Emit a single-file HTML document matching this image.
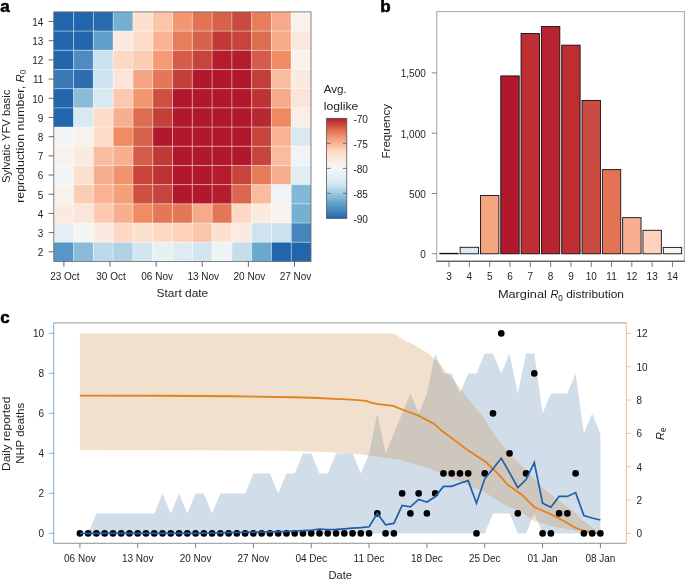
<!DOCTYPE html>
<html><head><meta charset="utf-8"><title>Figure</title>
<style>
html,body{margin:0;padding:0;background:#fff;}
body{width:685px;height:580px;overflow:hidden;}
svg{display:block;will-change:transform;}
text{font-family:"Liberation Sans", sans-serif;fill:#1e1e1e;}
.t{font-size:10px;}
.l{font-size:11px;}
.pl{font-size:17px;font-weight:bold;fill:#000;stroke:#000;stroke-width:0.55px;}
</style></head>
<body>
<svg width="685" height="580" viewBox="0 0 685 580">
<rect x="53.80" y="11.90" width="19.80" height="19.21" fill="#2166ac"/>
<rect x="73.58" y="11.90" width="19.80" height="19.21" fill="#2166ac"/>
<rect x="93.37" y="11.90" width="19.80" height="19.21" fill="#276aae"/>
<rect x="113.15" y="11.90" width="19.80" height="19.21" fill="#75b0d3"/>
<rect x="132.94" y="11.90" width="19.80" height="19.21" fill="#fce1d1"/>
<rect x="152.72" y="11.90" width="19.80" height="19.21" fill="#fbc5aa"/>
<rect x="172.51" y="11.90" width="19.80" height="19.21" fill="#f39771"/>
<rect x="192.29" y="11.90" width="19.80" height="19.21" fill="#e17254"/>
<rect x="212.08" y="11.90" width="19.80" height="19.21" fill="#d7624b"/>
<rect x="231.86" y="11.90" width="19.80" height="19.21" fill="#c94a3e"/>
<rect x="251.65" y="11.90" width="19.80" height="19.21" fill="#e77d5a"/>
<rect x="271.43" y="11.90" width="19.80" height="19.21" fill="#f7aa89"/>
<rect x="291.22" y="11.90" width="19.80" height="19.21" fill="#f9f1ec"/>
<rect x="53.80" y="31.09" width="19.80" height="19.21" fill="#2166ac"/>
<rect x="73.58" y="31.09" width="19.80" height="19.21" fill="#2166ac"/>
<rect x="93.37" y="31.09" width="19.80" height="19.21" fill="#5e9ec9"/>
<rect x="113.15" y="31.09" width="19.80" height="19.21" fill="#fbeae0"/>
<rect x="132.94" y="31.09" width="19.80" height="19.21" fill="#fddcc9"/>
<rect x="152.72" y="31.09" width="19.80" height="19.21" fill="#f9b394"/>
<rect x="172.51" y="31.09" width="19.80" height="19.21" fill="#e77d5a"/>
<rect x="192.29" y="31.09" width="19.80" height="19.21" fill="#d7624b"/>
<rect x="212.08" y="31.09" width="19.80" height="19.21" fill="#c03936"/>
<rect x="231.86" y="31.09" width="19.80" height="19.21" fill="#c6443b"/>
<rect x="251.65" y="31.09" width="19.80" height="19.21" fill="#dd6d51"/>
<rect x="271.43" y="31.09" width="19.80" height="19.21" fill="#f7aa89"/>
<rect x="291.22" y="31.09" width="19.80" height="19.21" fill="#fbe8dd"/>
<rect x="53.80" y="50.28" width="19.80" height="19.21" fill="#2166ac"/>
<rect x="73.58" y="50.28" width="19.80" height="19.21" fill="#4d8bc0"/>
<rect x="93.37" y="50.28" width="19.80" height="19.21" fill="#cae1ee"/>
<rect x="113.15" y="50.28" width="19.80" height="19.21" fill="#fdd9c4"/>
<rect x="132.94" y="50.28" width="19.80" height="19.21" fill="#fccdb5"/>
<rect x="152.72" y="50.28" width="19.80" height="19.21" fill="#f49b76"/>
<rect x="172.51" y="50.28" width="19.80" height="19.21" fill="#d45c48"/>
<rect x="192.29" y="50.28" width="19.80" height="19.21" fill="#c6443b"/>
<rect x="212.08" y="50.28" width="19.80" height="19.21" fill="#b41d2c"/>
<rect x="231.86" y="50.28" width="19.80" height="19.21" fill="#b41d2c"/>
<rect x="251.65" y="50.28" width="19.80" height="19.21" fill="#d45c48"/>
<rect x="271.43" y="50.28" width="19.80" height="19.21" fill="#ef8c64"/>
<rect x="291.22" y="50.28" width="19.80" height="19.21" fill="#f9f1ec"/>
<rect x="53.80" y="69.48" width="19.80" height="19.21" fill="#3a79b6"/>
<rect x="73.58" y="69.48" width="19.80" height="19.21" fill="#2d6eb0"/>
<rect x="93.37" y="69.48" width="19.80" height="19.21" fill="#cee3ef"/>
<rect x="113.15" y="69.48" width="19.80" height="19.21" fill="#fbe5d9"/>
<rect x="132.94" y="69.48" width="19.80" height="19.21" fill="#f6a684"/>
<rect x="152.72" y="69.48" width="19.80" height="19.21" fill="#e47757"/>
<rect x="172.51" y="69.48" width="19.80" height="19.21" fill="#c33f39"/>
<rect x="192.29" y="69.48" width="19.80" height="19.21" fill="#b2182b"/>
<rect x="212.08" y="69.48" width="19.80" height="19.21" fill="#b2182b"/>
<rect x="231.86" y="69.48" width="19.80" height="19.21" fill="#b2182b"/>
<rect x="251.65" y="69.48" width="19.80" height="19.21" fill="#c33f39"/>
<rect x="271.43" y="69.48" width="19.80" height="19.21" fill="#fabc9f"/>
<rect x="291.22" y="69.48" width="19.80" height="19.21" fill="#fbeae0"/>
<rect x="53.80" y="88.67" width="19.80" height="19.21" fill="#2166ac"/>
<rect x="73.58" y="88.67" width="19.80" height="19.21" fill="#8abbd9"/>
<rect x="93.37" y="88.67" width="19.80" height="19.21" fill="#d9e9f1"/>
<rect x="113.15" y="88.67" width="19.80" height="19.21" fill="#fcc9b0"/>
<rect x="132.94" y="88.67" width="19.80" height="19.21" fill="#f39771"/>
<rect x="152.72" y="88.67" width="19.80" height="19.21" fill="#cd5041"/>
<rect x="172.51" y="88.67" width="19.80" height="19.21" fill="#b2182b"/>
<rect x="192.29" y="88.67" width="19.80" height="19.21" fill="#b2182b"/>
<rect x="212.08" y="88.67" width="19.80" height="19.21" fill="#b2182b"/>
<rect x="231.86" y="88.67" width="19.80" height="19.21" fill="#b2182b"/>
<rect x="251.65" y="88.67" width="19.80" height="19.21" fill="#bd3334"/>
<rect x="271.43" y="88.67" width="19.80" height="19.21" fill="#f7aa89"/>
<rect x="291.22" y="88.67" width="19.80" height="19.21" fill="#fbe5d9"/>
<rect x="53.80" y="107.86" width="19.80" height="19.21" fill="#2166ac"/>
<rect x="73.58" y="107.86" width="19.80" height="19.21" fill="#d9e9f1"/>
<rect x="93.37" y="107.86" width="19.80" height="19.21" fill="#fddcc9"/>
<rect x="113.15" y="107.86" width="19.80" height="19.21" fill="#f8af8f"/>
<rect x="132.94" y="107.86" width="19.80" height="19.21" fill="#dd6d51"/>
<rect x="152.72" y="107.86" width="19.80" height="19.21" fill="#c33f39"/>
<rect x="172.51" y="107.86" width="19.80" height="19.21" fill="#b2182b"/>
<rect x="192.29" y="107.86" width="19.80" height="19.21" fill="#b2182b"/>
<rect x="212.08" y="107.86" width="19.80" height="19.21" fill="#b2182b"/>
<rect x="231.86" y="107.86" width="19.80" height="19.21" fill="#b2182b"/>
<rect x="251.65" y="107.86" width="19.80" height="19.21" fill="#b82830"/>
<rect x="271.43" y="107.86" width="19.80" height="19.21" fill="#ee8961"/>
<rect x="291.22" y="107.86" width="19.80" height="19.21" fill="#faeee8"/>
<rect x="53.80" y="127.05" width="19.80" height="19.21" fill="#f3f5f6"/>
<rect x="73.58" y="127.05" width="19.80" height="19.21" fill="#f9f1ec"/>
<rect x="93.37" y="127.05" width="19.80" height="19.21" fill="#fddcc9"/>
<rect x="113.15" y="127.05" width="19.80" height="19.21" fill="#ef8c64"/>
<rect x="132.94" y="127.05" width="19.80" height="19.21" fill="#d7624b"/>
<rect x="152.72" y="127.05" width="19.80" height="19.21" fill="#b2182b"/>
<rect x="172.51" y="127.05" width="19.80" height="19.21" fill="#b2182b"/>
<rect x="192.29" y="127.05" width="19.80" height="19.21" fill="#b2182b"/>
<rect x="212.08" y="127.05" width="19.80" height="19.21" fill="#b2182b"/>
<rect x="231.86" y="127.05" width="19.80" height="19.21" fill="#b2182b"/>
<rect x="251.65" y="127.05" width="19.80" height="19.21" fill="#c6443b"/>
<rect x="271.43" y="127.05" width="19.80" height="19.21" fill="#f9b394"/>
<rect x="291.22" y="127.05" width="19.80" height="19.21" fill="#d9e9f1"/>
<rect x="53.80" y="146.25" width="19.80" height="19.21" fill="#f8f3ef"/>
<rect x="73.58" y="146.25" width="19.80" height="19.21" fill="#fbeae0"/>
<rect x="93.37" y="146.25" width="19.80" height="19.21" fill="#fabc9f"/>
<rect x="113.15" y="146.25" width="19.80" height="19.21" fill="#f8af8f"/>
<rect x="132.94" y="146.25" width="19.80" height="19.21" fill="#d45c48"/>
<rect x="152.72" y="146.25" width="19.80" height="19.21" fill="#c03936"/>
<rect x="172.51" y="146.25" width="19.80" height="19.21" fill="#b2182b"/>
<rect x="192.29" y="146.25" width="19.80" height="19.21" fill="#b2182b"/>
<rect x="212.08" y="146.25" width="19.80" height="19.21" fill="#b2182b"/>
<rect x="231.86" y="146.25" width="19.80" height="19.21" fill="#b2182b"/>
<rect x="251.65" y="146.25" width="19.80" height="19.21" fill="#c6443b"/>
<rect x="271.43" y="146.25" width="19.80" height="19.21" fill="#fabc9f"/>
<rect x="291.22" y="146.25" width="19.80" height="19.21" fill="#f1f4f6"/>
<rect x="53.80" y="165.44" width="19.80" height="19.21" fill="#f3f5f6"/>
<rect x="73.58" y="165.44" width="19.80" height="19.21" fill="#fce1d1"/>
<rect x="93.37" y="165.44" width="19.80" height="19.21" fill="#f8af8f"/>
<rect x="113.15" y="165.44" width="19.80" height="19.21" fill="#f2936d"/>
<rect x="132.94" y="165.44" width="19.80" height="19.21" fill="#c6443b"/>
<rect x="152.72" y="165.44" width="19.80" height="19.21" fill="#bd3334"/>
<rect x="172.51" y="165.44" width="19.80" height="19.21" fill="#b2182b"/>
<rect x="192.29" y="165.44" width="19.80" height="19.21" fill="#b2182b"/>
<rect x="212.08" y="165.44" width="19.80" height="19.21" fill="#b41d2c"/>
<rect x="231.86" y="165.44" width="19.80" height="19.21" fill="#c6443b"/>
<rect x="251.65" y="165.44" width="19.80" height="19.21" fill="#e67a59"/>
<rect x="271.43" y="165.44" width="19.80" height="19.21" fill="#f8af8f"/>
<rect x="291.22" y="165.44" width="19.80" height="19.21" fill="#e2edf3"/>
<rect x="53.80" y="184.63" width="19.80" height="19.21" fill="#f9f1ec"/>
<rect x="73.58" y="184.63" width="19.80" height="19.21" fill="#fccdb5"/>
<rect x="93.37" y="184.63" width="19.80" height="19.21" fill="#f9b394"/>
<rect x="113.15" y="184.63" width="19.80" height="19.21" fill="#f49e7a"/>
<rect x="132.94" y="184.63" width="19.80" height="19.21" fill="#cd5041"/>
<rect x="152.72" y="184.63" width="19.80" height="19.21" fill="#c6443b"/>
<rect x="172.51" y="184.63" width="19.80" height="19.21" fill="#b2182b"/>
<rect x="192.29" y="184.63" width="19.80" height="19.21" fill="#b2182b"/>
<rect x="212.08" y="184.63" width="19.80" height="19.21" fill="#b41d2c"/>
<rect x="231.86" y="184.63" width="19.80" height="19.21" fill="#da674e"/>
<rect x="251.65" y="184.63" width="19.80" height="19.21" fill="#fabc9f"/>
<rect x="271.43" y="184.63" width="19.80" height="19.21" fill="#f1f4f6"/>
<rect x="291.22" y="184.63" width="19.80" height="19.21" fill="#83b7d7"/>
<rect x="53.80" y="203.82" width="19.80" height="19.21" fill="#fbeae0"/>
<rect x="73.58" y="203.82" width="19.80" height="19.21" fill="#fbe5d9"/>
<rect x="93.37" y="203.82" width="19.80" height="19.21" fill="#fcc9b0"/>
<rect x="113.15" y="203.82" width="19.80" height="19.21" fill="#f8af8f"/>
<rect x="132.94" y="203.82" width="19.80" height="19.21" fill="#ef8c64"/>
<rect x="152.72" y="203.82" width="19.80" height="19.21" fill="#e47757"/>
<rect x="172.51" y="203.82" width="19.80" height="19.21" fill="#e47757"/>
<rect x="192.29" y="203.82" width="19.80" height="19.21" fill="#f7aa89"/>
<rect x="212.08" y="203.82" width="19.80" height="19.21" fill="#e47757"/>
<rect x="231.86" y="203.82" width="19.80" height="19.21" fill="#fdd9c4"/>
<rect x="251.65" y="203.82" width="19.80" height="19.21" fill="#fbeae0"/>
<rect x="271.43" y="203.82" width="19.80" height="19.21" fill="#f8f3ef"/>
<rect x="291.22" y="203.82" width="19.80" height="19.21" fill="#75b0d3"/>
<rect x="53.80" y="223.02" width="19.80" height="19.21" fill="#e5eef4"/>
<rect x="73.58" y="223.02" width="19.80" height="19.21" fill="#f4f6f6"/>
<rect x="93.37" y="223.02" width="19.80" height="19.21" fill="#fbeae0"/>
<rect x="113.15" y="223.02" width="19.80" height="19.21" fill="#fdd9c4"/>
<rect x="132.94" y="223.02" width="19.80" height="19.21" fill="#fce1d1"/>
<rect x="152.72" y="223.02" width="19.80" height="19.21" fill="#fdd9c4"/>
<rect x="172.51" y="223.02" width="19.80" height="19.21" fill="#fdd1ba"/>
<rect x="192.29" y="223.02" width="19.80" height="19.21" fill="#fbc5aa"/>
<rect x="212.08" y="223.02" width="19.80" height="19.21" fill="#fce1d1"/>
<rect x="231.86" y="223.02" width="19.80" height="19.21" fill="#fbeae0"/>
<rect x="251.65" y="223.02" width="19.80" height="19.21" fill="#cee3ef"/>
<rect x="271.43" y="223.02" width="19.80" height="19.21" fill="#cae1ee"/>
<rect x="291.22" y="223.02" width="19.80" height="19.21" fill="#4684bc"/>
<rect x="53.80" y="242.21" width="19.80" height="19.21" fill="#5796c6"/>
<rect x="73.58" y="242.21" width="19.80" height="19.21" fill="#8abbd9"/>
<rect x="93.37" y="242.21" width="19.80" height="19.21" fill="#bdd8e9"/>
<rect x="113.15" y="242.21" width="19.80" height="19.21" fill="#afd0e5"/>
<rect x="132.94" y="242.21" width="19.80" height="19.21" fill="#d3e6f0"/>
<rect x="152.72" y="242.21" width="19.80" height="19.21" fill="#e8f0f4"/>
<rect x="172.51" y="242.21" width="19.80" height="19.21" fill="#dfebf3"/>
<rect x="192.29" y="242.21" width="19.80" height="19.21" fill="#d3e6f0"/>
<rect x="212.08" y="242.21" width="19.80" height="19.21" fill="#eef3f5"/>
<rect x="231.86" y="242.21" width="19.80" height="19.21" fill="#c5deec"/>
<rect x="251.65" y="242.21" width="19.80" height="19.21" fill="#67a9cf"/>
<rect x="271.43" y="242.21" width="19.80" height="19.21" fill="#2166ac"/>
<rect x="291.22" y="242.21" width="19.80" height="19.21" fill="#2166ac"/>
<line x1="73.58" y1="11.90" x2="73.58" y2="261.40" stroke="#fff" stroke-opacity="0.55" stroke-width="0.8"/>
<line x1="93.37" y1="11.90" x2="93.37" y2="261.40" stroke="#fff" stroke-opacity="0.55" stroke-width="0.8"/>
<line x1="113.15" y1="11.90" x2="113.15" y2="261.40" stroke="#fff" stroke-opacity="0.55" stroke-width="0.8"/>
<line x1="132.94" y1="11.90" x2="132.94" y2="261.40" stroke="#fff" stroke-opacity="0.55" stroke-width="0.8"/>
<line x1="152.72" y1="11.90" x2="152.72" y2="261.40" stroke="#fff" stroke-opacity="0.55" stroke-width="0.8"/>
<line x1="172.51" y1="11.90" x2="172.51" y2="261.40" stroke="#fff" stroke-opacity="0.55" stroke-width="0.8"/>
<line x1="192.29" y1="11.90" x2="192.29" y2="261.40" stroke="#fff" stroke-opacity="0.55" stroke-width="0.8"/>
<line x1="212.08" y1="11.90" x2="212.08" y2="261.40" stroke="#fff" stroke-opacity="0.55" stroke-width="0.8"/>
<line x1="231.86" y1="11.90" x2="231.86" y2="261.40" stroke="#fff" stroke-opacity="0.55" stroke-width="0.8"/>
<line x1="251.65" y1="11.90" x2="251.65" y2="261.40" stroke="#fff" stroke-opacity="0.55" stroke-width="0.8"/>
<line x1="271.43" y1="11.90" x2="271.43" y2="261.40" stroke="#fff" stroke-opacity="0.55" stroke-width="0.8"/>
<line x1="291.22" y1="11.90" x2="291.22" y2="261.40" stroke="#fff" stroke-opacity="0.55" stroke-width="0.8"/>
<line x1="53.80" y1="31.09" x2="311.00" y2="31.09" stroke="#fff" stroke-opacity="0.55" stroke-width="0.8"/>
<line x1="53.80" y1="50.28" x2="311.00" y2="50.28" stroke="#fff" stroke-opacity="0.55" stroke-width="0.8"/>
<line x1="53.80" y1="69.48" x2="311.00" y2="69.48" stroke="#fff" stroke-opacity="0.55" stroke-width="0.8"/>
<line x1="53.80" y1="88.67" x2="311.00" y2="88.67" stroke="#fff" stroke-opacity="0.55" stroke-width="0.8"/>
<line x1="53.80" y1="107.86" x2="311.00" y2="107.86" stroke="#fff" stroke-opacity="0.55" stroke-width="0.8"/>
<line x1="53.80" y1="127.05" x2="311.00" y2="127.05" stroke="#fff" stroke-opacity="0.55" stroke-width="0.8"/>
<line x1="53.80" y1="146.25" x2="311.00" y2="146.25" stroke="#fff" stroke-opacity="0.55" stroke-width="0.8"/>
<line x1="53.80" y1="165.44" x2="311.00" y2="165.44" stroke="#fff" stroke-opacity="0.55" stroke-width="0.8"/>
<line x1="53.80" y1="184.63" x2="311.00" y2="184.63" stroke="#fff" stroke-opacity="0.55" stroke-width="0.8"/>
<line x1="53.80" y1="203.82" x2="311.00" y2="203.82" stroke="#fff" stroke-opacity="0.55" stroke-width="0.8"/>
<line x1="53.80" y1="223.02" x2="311.00" y2="223.02" stroke="#fff" stroke-opacity="0.55" stroke-width="0.8"/>
<line x1="53.80" y1="242.21" x2="311.00" y2="242.21" stroke="#fff" stroke-opacity="0.55" stroke-width="0.8"/>
<rect x="53.80" y="11.90" width="257.20" height="249.50" fill="none" stroke="#666" stroke-width="0.8"/>
<line x1="48.6" y1="21.50" x2="53.80" y2="21.50" stroke="#444" stroke-width="0.8"/>
<text x="43.4" y="25.80" text-anchor="end" class="t">14</text>
<line x1="48.6" y1="40.69" x2="53.80" y2="40.69" stroke="#444" stroke-width="0.8"/>
<text x="43.4" y="44.99" text-anchor="end" class="t">13</text>
<line x1="48.6" y1="59.88" x2="53.80" y2="59.88" stroke="#444" stroke-width="0.8"/>
<text x="43.4" y="64.18" text-anchor="end" class="t">12</text>
<line x1="48.6" y1="79.07" x2="53.80" y2="79.07" stroke="#444" stroke-width="0.8"/>
<text x="43.4" y="83.37" text-anchor="end" class="t">11</text>
<line x1="48.6" y1="98.27" x2="53.80" y2="98.27" stroke="#444" stroke-width="0.8"/>
<text x="43.4" y="102.57" text-anchor="end" class="t">10</text>
<line x1="48.6" y1="117.46" x2="53.80" y2="117.46" stroke="#444" stroke-width="0.8"/>
<text x="43.4" y="121.76" text-anchor="end" class="t">9</text>
<line x1="48.6" y1="136.65" x2="53.80" y2="136.65" stroke="#444" stroke-width="0.8"/>
<text x="43.4" y="140.95" text-anchor="end" class="t">8</text>
<line x1="48.6" y1="155.84" x2="53.80" y2="155.84" stroke="#444" stroke-width="0.8"/>
<text x="43.4" y="160.14" text-anchor="end" class="t">7</text>
<line x1="48.6" y1="175.03" x2="53.80" y2="175.03" stroke="#444" stroke-width="0.8"/>
<text x="43.4" y="179.33" text-anchor="end" class="t">6</text>
<line x1="48.6" y1="194.23" x2="53.80" y2="194.23" stroke="#444" stroke-width="0.8"/>
<text x="43.4" y="198.53" text-anchor="end" class="t">5</text>
<line x1="48.6" y1="213.42" x2="53.80" y2="213.42" stroke="#444" stroke-width="0.8"/>
<text x="43.4" y="217.72" text-anchor="end" class="t">4</text>
<line x1="48.6" y1="232.61" x2="53.80" y2="232.61" stroke="#444" stroke-width="0.8"/>
<text x="43.4" y="236.91" text-anchor="end" class="t">3</text>
<line x1="48.6" y1="251.80" x2="53.80" y2="251.80" stroke="#444" stroke-width="0.8"/>
<text x="43.4" y="256.10" text-anchor="end" class="t">2</text>
<line x1="63.90" y1="261.40" x2="63.90" y2="266.8" stroke="#444" stroke-width="0.8"/>
<text x="64.90" y="280.2" text-anchor="middle" class="t">23 Oct</text>
<line x1="110.02" y1="261.40" x2="110.02" y2="266.8" stroke="#444" stroke-width="0.8"/>
<text x="111.02" y="280.2" text-anchor="middle" class="t">30 Oct</text>
<line x1="156.14" y1="261.40" x2="156.14" y2="266.8" stroke="#444" stroke-width="0.8"/>
<text x="157.14" y="280.2" text-anchor="middle" class="t">06 Nov</text>
<line x1="202.26" y1="261.40" x2="202.26" y2="266.8" stroke="#444" stroke-width="0.8"/>
<text x="203.26" y="280.2" text-anchor="middle" class="t">13 Nov</text>
<line x1="248.38" y1="261.40" x2="248.38" y2="266.8" stroke="#444" stroke-width="0.8"/>
<text x="249.38" y="280.2" text-anchor="middle" class="t">20 Nov</text>
<line x1="294.50" y1="261.40" x2="294.50" y2="266.8" stroke="#444" stroke-width="0.8"/>
<text x="295.50" y="280.2" text-anchor="middle" class="t">27 Nov</text>
<text x="182.4" y="297.4" text-anchor="middle" class="l" textLength="51.7" lengthAdjust="spacingAndGlyphs">Start date</text>
<text transform="translate(10.0,136.3) rotate(-90)" text-anchor="middle" class="l" textLength="93.5" lengthAdjust="spacingAndGlyphs">Sylvatic YFV basic</text>
<text transform="translate(23.6,136.3) rotate(-90)" text-anchor="middle" class="l"><tspan textLength="120.5" lengthAdjust="spacingAndGlyphs">reproduction number, </tspan><tspan font-style="italic">R</tspan><tspan font-size="8.2" dy="2.6">0</tspan></text>
<text x="0.2" y="12" class="pl">a</text>
<defs><linearGradient id="cb" x1="0" y1="1" x2="0" y2="0">
<stop offset="0.0000" stop-color="#2166ac"/>
<stop offset="0.0417" stop-color="#3776b5"/>
<stop offset="0.0833" stop-color="#4987be"/>
<stop offset="0.1250" stop-color="#5998c6"/>
<stop offset="0.1667" stop-color="#67a9cf"/>
<stop offset="0.2083" stop-color="#84b8d7"/>
<stop offset="0.2500" stop-color="#9fc7e0"/>
<stop offset="0.2917" stop-color="#b8d6e8"/>
<stop offset="0.3333" stop-color="#d1e5f0"/>
<stop offset="0.3750" stop-color="#dbe9f2"/>
<stop offset="0.4167" stop-color="#e4eef4"/>
<stop offset="0.4583" stop-color="#eef2f5"/>
<stop offset="0.5000" stop-color="#f7f7f7"/>
<stop offset="0.5417" stop-color="#f9f0eb"/>
<stop offset="0.5833" stop-color="#fbe9df"/>
<stop offset="0.6250" stop-color="#fce2d3"/>
<stop offset="0.6667" stop-color="#fddbc7"/>
<stop offset="0.7083" stop-color="#fcc7ad"/>
<stop offset="0.7500" stop-color="#f9b393"/>
<stop offset="0.7917" stop-color="#f59e7b"/>
<stop offset="0.8333" stop-color="#ef8a62"/>
<stop offset="0.8750" stop-color="#e07153"/>
<stop offset="0.9167" stop-color="#d15845"/>
<stop offset="0.9583" stop-color="#c23d38"/>
<stop offset="1.0000" stop-color="#b2182b"/>
</linearGradient></defs>
<rect x="326.60" y="118.30" width="20.20" height="100.10" fill="url(#cb)" stroke="#555" stroke-width="0.8"/>
<text x="353.4" y="122.50" class="t" textLength="14.6" lengthAdjust="spacingAndGlyphs">-70</text>
<line x1="326.60" y1="143.32" x2="330.60" y2="143.32" stroke="#555" stroke-width="0.8"/>
<line x1="342.80" y1="143.32" x2="346.80" y2="143.32" stroke="#555" stroke-width="0.8"/>
<text x="353.4" y="147.52" class="t" textLength="14.6" lengthAdjust="spacingAndGlyphs">-75</text>
<line x1="326.60" y1="168.35" x2="330.60" y2="168.35" stroke="#555" stroke-width="0.8"/>
<line x1="342.80" y1="168.35" x2="346.80" y2="168.35" stroke="#555" stroke-width="0.8"/>
<text x="353.4" y="172.55" class="t" textLength="14.6" lengthAdjust="spacingAndGlyphs">-80</text>
<line x1="326.60" y1="193.38" x2="330.60" y2="193.38" stroke="#555" stroke-width="0.8"/>
<line x1="342.80" y1="193.38" x2="346.80" y2="193.38" stroke="#555" stroke-width="0.8"/>
<text x="353.4" y="197.57" class="t" textLength="14.6" lengthAdjust="spacingAndGlyphs">-85</text>
<text x="353.4" y="222.60" class="t" textLength="14.6" lengthAdjust="spacingAndGlyphs">-90</text>
<text x="323.8" y="93.2" class="l" textLength="23" lengthAdjust="spacingAndGlyphs">Avg.</text>
<text x="323.8" y="109.8" class="l" textLength="34.5" lengthAdjust="spacingAndGlyphs">loglike</text>
<rect x="436.80" y="11.70" width="247.50" height="249.30" fill="none" stroke="#999" stroke-width="0.9"/>
<line x1="436.35" y1="261.4" x2="684.75" y2="261.4" stroke="#666" stroke-width="1.1"/>
<rect x="439.85" y="253.32" width="18.4" height="0.48" fill="#2a2a2a" stroke="#111" stroke-width="0.9"/>
<line x1="449.05" y1="261.00" x2="449.05" y2="267.0" stroke="#666" stroke-width="0.9"/>
<text x="449.05" y="280" text-anchor="middle" class="t">3</text>
<rect x="460.16" y="247.29" width="18.4" height="6.51" fill="#dbe9f3" stroke="#111" stroke-width="0.9"/>
<line x1="469.36" y1="261.00" x2="469.36" y2="267.0" stroke="#666" stroke-width="0.9"/>
<text x="469.36" y="280" text-anchor="middle" class="t">4</text>
<rect x="480.47" y="195.43" width="18.4" height="58.37" fill="#f4a582" stroke="#111" stroke-width="0.9"/>
<line x1="489.67" y1="261.00" x2="489.67" y2="267.0" stroke="#666" stroke-width="0.9"/>
<text x="489.67" y="280" text-anchor="middle" class="t">5</text>
<rect x="500.78" y="75.92" width="18.4" height="177.88" fill="#b2182b" stroke="#111" stroke-width="0.9"/>
<line x1="509.98" y1="261.00" x2="509.98" y2="267.0" stroke="#666" stroke-width="0.9"/>
<text x="509.98" y="280" text-anchor="middle" class="t">6</text>
<rect x="521.09" y="33.46" width="18.4" height="220.34" fill="#bf2e32" stroke="#111" stroke-width="0.9"/>
<line x1="530.29" y1="261.00" x2="530.29" y2="267.0" stroke="#666" stroke-width="0.9"/>
<text x="530.29" y="280" text-anchor="middle" class="t">7</text>
<rect x="541.40" y="26.47" width="18.4" height="227.33" fill="#b82330" stroke="#111" stroke-width="0.9"/>
<line x1="550.60" y1="261.00" x2="550.60" y2="267.0" stroke="#666" stroke-width="0.9"/>
<text x="550.60" y="280" text-anchor="middle" class="t">8</text>
<rect x="561.71" y="45.16" width="18.4" height="208.64" fill="#be2d32" stroke="#111" stroke-width="0.9"/>
<line x1="570.91" y1="261.00" x2="570.91" y2="267.0" stroke="#666" stroke-width="0.9"/>
<text x="570.91" y="280" text-anchor="middle" class="t">9</text>
<rect x="582.02" y="100.40" width="18.4" height="153.40" fill="#cb4a41" stroke="#111" stroke-width="0.9"/>
<line x1="591.22" y1="261.00" x2="591.22" y2="267.0" stroke="#666" stroke-width="0.9"/>
<text x="591.22" y="280" text-anchor="middle" class="t">10</text>
<rect x="602.33" y="169.62" width="18.4" height="84.18" fill="#e27354" stroke="#111" stroke-width="0.9"/>
<line x1="611.53" y1="261.00" x2="611.53" y2="267.0" stroke="#666" stroke-width="0.9"/>
<text x="611.53" y="280" text-anchor="middle" class="t">11</text>
<rect x="622.64" y="217.62" width="18.4" height="36.18" fill="#f8ae8f" stroke="#111" stroke-width="0.9"/>
<line x1="631.84" y1="261.00" x2="631.84" y2="267.0" stroke="#666" stroke-width="0.9"/>
<text x="631.84" y="280" text-anchor="middle" class="t">12</text>
<rect x="642.95" y="230.28" width="18.4" height="23.52" fill="#fdd3bd" stroke="#111" stroke-width="0.9"/>
<line x1="652.15" y1="261.00" x2="652.15" y2="267.0" stroke="#666" stroke-width="0.9"/>
<text x="652.15" y="280" text-anchor="middle" class="t">13</text>
<rect x="663.26" y="247.41" width="18.4" height="6.39" fill="#f8f4f1" stroke="#111" stroke-width="0.9"/>
<line x1="672.46" y1="261.00" x2="672.46" y2="267.0" stroke="#666" stroke-width="0.9"/>
<text x="672.46" y="280" text-anchor="middle" class="t">14</text>
<line x1="431.8" y1="253.80" x2="436.80" y2="253.80" stroke="#666" stroke-width="0.8"/>
<text x="425.8" y="258.30" text-anchor="end" class="t">0</text>
<line x1="431.8" y1="193.50" x2="436.80" y2="193.50" stroke="#666" stroke-width="0.8"/>
<text x="425.8" y="198.00" text-anchor="end" class="t">500</text>
<line x1="431.8" y1="133.20" x2="436.80" y2="133.20" stroke="#666" stroke-width="0.8"/>
<text x="425.8" y="137.70" text-anchor="end" class="t">1,000</text>
<line x1="431.8" y1="72.90" x2="436.80" y2="72.90" stroke="#666" stroke-width="0.8"/>
<text x="425.8" y="77.40" text-anchor="end" class="t">1,500</text>
<text transform="translate(389.6,131.2) rotate(-90)" text-anchor="middle" class="l" textLength="54.6" lengthAdjust="spacingAndGlyphs">Frequency</text>
<text x="497.9" y="297.7" class="l"><tspan textLength="52.5" lengthAdjust="spacingAndGlyphs">Marginal </tspan><tspan font-style="italic">R</tspan><tspan font-size="8.2" dy="2.9">0</tspan><tspan dy="-2.9" textLength="61" lengthAdjust="spacingAndGlyphs"> distribution</tspan></text>
<text x="380.3" y="12" class="pl">b</text>
<polygon points="79.90,533.40 88.16,533.40 96.42,513.40 104.69,513.40 112.95,513.40 121.21,513.40 129.47,513.40 137.73,513.40 146.00,513.40 154.26,513.40 162.52,493.40 170.78,513.40 179.04,493.40 187.31,513.40 195.57,493.40 203.83,493.40 212.09,513.40 220.35,493.40 228.62,493.40 236.88,493.40 245.14,493.40 253.40,473.40 261.66,473.40 269.93,473.40 278.19,493.40 286.45,473.40 294.71,473.40 302.97,453.40 311.24,453.40 319.50,473.40 327.76,473.40 336.02,453.40 344.28,453.40 352.55,453.40 360.81,473.40 369.07,453.40 377.33,413.40 385.59,453.40 393.86,433.40 402.12,413.40 410.38,393.40 418.64,413.40 426.90,393.40 435.17,353.40 443.43,373.40 451.69,373.40 459.95,393.40 468.21,373.40 476.48,373.40 484.74,353.40 493.00,353.40 501.26,373.40 509.52,353.40 517.79,393.40 526.05,353.40 534.31,353.40 542.57,413.40 550.83,393.40 559.10,393.40 567.36,393.40 575.62,373.40 583.88,433.40 592.14,413.40 600.41,433.40 600.41,533.40 592.14,533.40 583.88,533.40 575.62,533.40 567.36,533.40 559.10,533.40 550.83,533.40 542.57,533.40 534.31,513.40 526.05,533.40 517.79,533.40 509.52,513.40 501.26,513.40 493.00,513.40 484.74,533.40 476.48,533.40 468.21,533.40 459.95,533.40 451.69,533.40 443.43,533.40 435.17,533.40 426.90,533.40 418.64,533.40 410.38,533.40 402.12,533.40 393.86,533.40 385.59,533.40 377.33,533.40 369.07,533.40 360.81,533.40 352.55,533.40 344.28,533.40 336.02,533.40 327.76,533.40 319.50,533.40 311.24,533.40 302.97,533.40 294.71,533.40 286.45,533.40 278.19,533.40 269.93,533.40 261.66,533.40 253.40,533.40 245.14,533.40 236.88,533.40 228.62,533.40 220.35,533.40 212.09,533.40 203.83,533.40 195.57,533.40 187.31,533.40 179.04,533.40 170.78,533.40 162.52,533.40 154.26,533.40 146.00,533.40 137.73,533.40 129.47,533.40 121.21,533.40 112.95,533.40 104.69,533.40 96.42,533.40 88.16,533.40 79.90,533.40" fill="rgb(71,123,171)" fill-opacity="0.25"/>
<polygon points="79.90,333.40 393.86,333.40 402.94,339.40 412.86,344.23 427.32,352.73 439.30,363.57 451.69,378.07 461.60,390.07 470.69,402.07 482.42,416.23 494.82,434.90 507.29,451.57 519.69,463.90 532.08,476.23 545.05,490.07 556.62,498.73 568.18,507.57 575.62,513.07 581.82,519.73 594.21,529.07 600.41,533.07 600.41,533.40 588.01,532.57 574.79,530.57 566.53,529.07 555.79,527.07 545.88,524.40 534.31,520.90 525.22,514.73 515.31,509.57 504.98,505.07 484.74,492.57 461.60,482.23 426.90,467.57 399.64,459.73 363.29,454.73 327.76,452.07 282.32,450.73 79.90,449.90" fill="rgb(199,131,59)" fill-opacity="0.25"/>
<polyline points="79.90,395.57 162.52,395.73 233.57,396.23 293.89,397.23 312.06,397.73 350.89,399.57 366.59,400.90 369.90,402.40 378.16,404.07 393.03,405.90 402.94,409.90 417.82,415.40 434.34,423.90 440.95,430.07 467.39,449.90 485.56,461.73 500.44,476.07 507.05,484.23 522.74,495.57 534.31,507.07 550.83,514.23 561.57,519.73 574.79,527.57 585.53,531.23 596.27,533.40 600.41,533.40" fill="none" stroke="#e4821c" stroke-width="1.8" stroke-linejoin="round"/>
<circle cx="79.90" cy="533.40" r="3.3" fill="#000"/>
<circle cx="88.16" cy="533.40" r="3.3" fill="#000"/>
<circle cx="96.42" cy="533.40" r="3.3" fill="#000"/>
<circle cx="104.69" cy="533.40" r="3.3" fill="#000"/>
<circle cx="112.95" cy="533.40" r="3.3" fill="#000"/>
<circle cx="121.21" cy="533.40" r="3.3" fill="#000"/>
<circle cx="129.47" cy="533.40" r="3.3" fill="#000"/>
<circle cx="137.73" cy="533.40" r="3.3" fill="#000"/>
<circle cx="146.00" cy="533.40" r="3.3" fill="#000"/>
<circle cx="154.26" cy="533.40" r="3.3" fill="#000"/>
<circle cx="162.52" cy="533.40" r="3.3" fill="#000"/>
<circle cx="170.78" cy="533.40" r="3.3" fill="#000"/>
<circle cx="179.04" cy="533.40" r="3.3" fill="#000"/>
<circle cx="187.31" cy="533.40" r="3.3" fill="#000"/>
<circle cx="195.57" cy="533.40" r="3.3" fill="#000"/>
<circle cx="203.83" cy="533.40" r="3.3" fill="#000"/>
<circle cx="212.09" cy="533.40" r="3.3" fill="#000"/>
<circle cx="220.35" cy="533.40" r="3.3" fill="#000"/>
<circle cx="228.62" cy="533.40" r="3.3" fill="#000"/>
<circle cx="236.88" cy="533.40" r="3.3" fill="#000"/>
<circle cx="245.14" cy="533.40" r="3.3" fill="#000"/>
<circle cx="253.40" cy="533.40" r="3.3" fill="#000"/>
<circle cx="261.66" cy="533.40" r="3.3" fill="#000"/>
<circle cx="269.93" cy="533.40" r="3.3" fill="#000"/>
<circle cx="278.19" cy="533.40" r="3.3" fill="#000"/>
<circle cx="286.45" cy="533.40" r="3.3" fill="#000"/>
<circle cx="294.71" cy="533.40" r="3.3" fill="#000"/>
<circle cx="302.97" cy="533.40" r="3.3" fill="#000"/>
<circle cx="311.24" cy="533.40" r="3.3" fill="#000"/>
<circle cx="319.50" cy="533.40" r="3.3" fill="#000"/>
<circle cx="327.76" cy="533.40" r="3.3" fill="#000"/>
<circle cx="336.02" cy="533.40" r="3.3" fill="#000"/>
<circle cx="344.28" cy="533.40" r="3.3" fill="#000"/>
<circle cx="352.55" cy="533.40" r="3.3" fill="#000"/>
<circle cx="360.81" cy="533.40" r="3.3" fill="#000"/>
<circle cx="369.07" cy="533.40" r="3.3" fill="#000"/>
<circle cx="377.33" cy="513.40" r="3.3" fill="#000"/>
<circle cx="385.59" cy="533.40" r="3.3" fill="#000"/>
<circle cx="393.86" cy="533.40" r="3.3" fill="#000"/>
<circle cx="402.12" cy="493.40" r="3.3" fill="#000"/>
<circle cx="410.38" cy="513.40" r="3.3" fill="#000"/>
<circle cx="418.64" cy="493.40" r="3.3" fill="#000"/>
<circle cx="426.90" cy="513.40" r="3.3" fill="#000"/>
<circle cx="435.17" cy="493.40" r="3.3" fill="#000"/>
<circle cx="443.43" cy="473.40" r="3.3" fill="#000"/>
<circle cx="451.69" cy="473.40" r="3.3" fill="#000"/>
<circle cx="459.95" cy="473.40" r="3.3" fill="#000"/>
<circle cx="468.21" cy="473.40" r="3.3" fill="#000"/>
<circle cx="476.48" cy="533.40" r="3.3" fill="#000"/>
<circle cx="484.74" cy="473.40" r="3.3" fill="#000"/>
<circle cx="493.00" cy="413.40" r="3.3" fill="#000"/>
<circle cx="501.26" cy="333.40" r="3.3" fill="#000"/>
<circle cx="509.52" cy="453.40" r="3.3" fill="#000"/>
<circle cx="517.79" cy="513.40" r="3.3" fill="#000"/>
<circle cx="526.05" cy="473.40" r="3.3" fill="#000"/>
<circle cx="534.31" cy="373.40" r="3.3" fill="#000"/>
<circle cx="542.57" cy="533.40" r="3.3" fill="#000"/>
<circle cx="550.83" cy="533.40" r="3.3" fill="#000"/>
<circle cx="559.10" cy="513.40" r="3.3" fill="#000"/>
<circle cx="567.36" cy="513.40" r="3.3" fill="#000"/>
<circle cx="575.62" cy="473.40" r="3.3" fill="#000"/>
<circle cx="583.88" cy="533.40" r="3.3" fill="#000"/>
<circle cx="592.14" cy="533.40" r="3.3" fill="#000"/>
<circle cx="600.41" cy="533.40" r="3.3" fill="#000"/>
<polyline points="79.90,533.40 88.16,533.40 96.42,533.40 104.69,533.40 112.95,533.40 121.21,533.40 129.47,533.40 137.73,533.40 146.00,533.40 154.26,533.40 162.52,533.40 170.78,533.40 179.04,533.40 187.31,533.40 195.57,533.40 203.83,533.20 212.09,533.00 220.35,532.80 228.62,532.60 236.88,532.50 245.14,532.40 253.40,532.20 261.66,532.00 269.93,531.80 278.19,531.60 286.45,531.40 294.71,531.00 302.97,530.60 311.24,530.20 319.50,529.00 327.76,529.60 336.02,529.40 344.28,528.80 352.55,528.20 360.81,527.60 369.07,526.80 377.33,513.40 385.59,524.80 393.86,523.40 402.12,505.40 410.38,506.80 418.64,499.40 426.90,502.00 435.17,496.80 443.43,486.40 451.69,486.40 459.95,483.20 468.21,480.60 476.48,503.20 484.74,478.80 493.00,468.80 501.26,458.20 509.52,472.60 517.79,487.60 526.05,479.60 534.31,462.60 542.57,503.20 550.83,507.20 559.10,496.40 567.36,496.40 575.62,492.60 583.88,515.60 592.14,518.00 600.41,520.00" fill="none" stroke="#1f5fa8" stroke-width="1.7" stroke-linejoin="miter"/>
<line x1="53.70" y1="322.90" x2="626.30" y2="322.90" stroke="#888" stroke-width="0.9"/>
<line x1="53.70" y1="543.30" x2="626.30" y2="543.30" stroke="#888" stroke-width="0.9"/>
<line x1="53.70" y1="322.90" x2="53.70" y2="543.30" stroke="#6d9fd3" stroke-width="0.9"/>
<line x1="626.30" y1="322.90" x2="626.30" y2="543.30" stroke="#f3b77a" stroke-width="0.9"/>
<line x1="48.8" y1="533.40" x2="53.70" y2="533.40" stroke="#6d9fd3" stroke-width="0.8"/>
<text x="44" y="537.00" text-anchor="end" class="t">0</text>
<line x1="48.8" y1="493.40" x2="53.70" y2="493.40" stroke="#6d9fd3" stroke-width="0.8"/>
<text x="44" y="497.00" text-anchor="end" class="t">2</text>
<line x1="48.8" y1="453.40" x2="53.70" y2="453.40" stroke="#6d9fd3" stroke-width="0.8"/>
<text x="44" y="457.00" text-anchor="end" class="t">4</text>
<line x1="48.8" y1="413.40" x2="53.70" y2="413.40" stroke="#6d9fd3" stroke-width="0.8"/>
<text x="44" y="417.00" text-anchor="end" class="t">6</text>
<line x1="48.8" y1="373.40" x2="53.70" y2="373.40" stroke="#6d9fd3" stroke-width="0.8"/>
<text x="44" y="377.00" text-anchor="end" class="t">8</text>
<line x1="48.8" y1="333.40" x2="53.70" y2="333.40" stroke="#6d9fd3" stroke-width="0.8"/>
<text x="44" y="337.00" text-anchor="end" class="t">10</text>
<line x1="626.30" y1="533.40" x2="631.2" y2="533.40" stroke="#f3b77a" stroke-width="0.8"/>
<text x="636.4" y="537.20" class="t">0</text>
<line x1="626.30" y1="500.07" x2="631.2" y2="500.07" stroke="#f3b77a" stroke-width="0.8"/>
<text x="636.4" y="503.87" class="t">2</text>
<line x1="626.30" y1="466.73" x2="631.2" y2="466.73" stroke="#f3b77a" stroke-width="0.8"/>
<text x="636.4" y="470.53" class="t">4</text>
<line x1="626.30" y1="433.40" x2="631.2" y2="433.40" stroke="#f3b77a" stroke-width="0.8"/>
<text x="636.4" y="437.20" class="t">6</text>
<line x1="626.30" y1="400.07" x2="631.2" y2="400.07" stroke="#f3b77a" stroke-width="0.8"/>
<text x="636.4" y="403.87" class="t">8</text>
<line x1="626.30" y1="366.73" x2="631.2" y2="366.73" stroke="#f3b77a" stroke-width="0.8"/>
<text x="636.4" y="370.53" class="t">10</text>
<line x1="626.30" y1="333.40" x2="631.2" y2="333.40" stroke="#f3b77a" stroke-width="0.8"/>
<text x="636.4" y="337.20" class="t">12</text>
<line x1="79.90" y1="543.30" x2="79.90" y2="548.3" stroke="#666" stroke-width="0.8"/>
<text x="79.90" y="561.8" text-anchor="middle" class="t">06 Nov</text>
<line x1="137.73" y1="543.30" x2="137.73" y2="548.3" stroke="#666" stroke-width="0.8"/>
<text x="137.73" y="561.8" text-anchor="middle" class="t">13 Nov</text>
<line x1="195.57" y1="543.30" x2="195.57" y2="548.3" stroke="#666" stroke-width="0.8"/>
<text x="195.57" y="561.8" text-anchor="middle" class="t">20 Nov</text>
<line x1="253.40" y1="543.30" x2="253.40" y2="548.3" stroke="#666" stroke-width="0.8"/>
<text x="253.40" y="561.8" text-anchor="middle" class="t">27 Nov</text>
<line x1="311.24" y1="543.30" x2="311.24" y2="548.3" stroke="#666" stroke-width="0.8"/>
<text x="311.24" y="561.8" text-anchor="middle" class="t">04 Dec</text>
<line x1="369.07" y1="543.30" x2="369.07" y2="548.3" stroke="#666" stroke-width="0.8"/>
<text x="369.07" y="561.8" text-anchor="middle" class="t">11 Dec</text>
<line x1="426.90" y1="543.30" x2="426.90" y2="548.3" stroke="#666" stroke-width="0.8"/>
<text x="426.90" y="561.8" text-anchor="middle" class="t">18 Dec</text>
<line x1="484.74" y1="543.30" x2="484.74" y2="548.3" stroke="#666" stroke-width="0.8"/>
<text x="484.74" y="561.8" text-anchor="middle" class="t">25 Dec</text>
<line x1="542.57" y1="543.30" x2="542.57" y2="548.3" stroke="#666" stroke-width="0.8"/>
<text x="542.57" y="561.8" text-anchor="middle" class="t">01 Jan</text>
<line x1="600.41" y1="543.30" x2="600.41" y2="548.3" stroke="#666" stroke-width="0.8"/>
<text x="600.41" y="561.8" text-anchor="middle" class="t">08 Jan</text>
<text x="340.3" y="579.3" text-anchor="middle" class="l" textLength="23.4" lengthAdjust="spacingAndGlyphs">Date</text>
<text transform="translate(10.4,433.8) rotate(-90)" text-anchor="middle" class="l" textLength="74.4" lengthAdjust="spacingAndGlyphs">Daily reported</text>
<text transform="translate(24.2,433.3) rotate(-90)" text-anchor="middle" class="l" textLength="61" lengthAdjust="spacingAndGlyphs">NHP deaths</text>
<text transform="translate(663.6,433.8) rotate(-90)" text-anchor="middle" class="l"><tspan font-style="italic">R</tspan><tspan font-size="8.2" dy="2.6">e</tspan></text>
<text x="0.3" y="322.7" class="pl">c</text>
</svg>
</body></html>
